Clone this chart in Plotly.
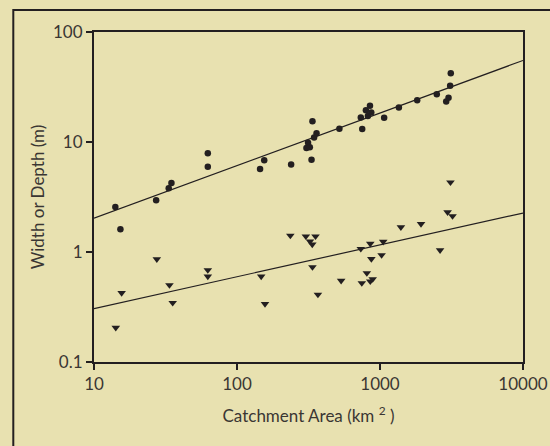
import plotly.graph_objects as go

# ---- data ----
width_area = [14.1, 15.3, 27.2, 33.3, 34.8, 62.5, 62.5, 145, 155, 239, 306, 314, 323, 332,
              337, 346, 360, 520, 734, 751, 797, 823, 851, 869, 1069, 1355, 1820, 2495,
              2904, 3014, 3094, 3126]
width_m = [2.57, 1.61, 2.96, 3.8, 4.25, 7.9, 5.95, 5.68, 6.84, 6.25, 8.8, 9.85, 8.95, 6.9,
           15.4, 11.0, 12.0, 13.2, 16.7, 13.1, 19.4, 17.2, 21.4, 18.5, 16.6, 20.6, 24.0, 27.2,
           23.4, 25.2, 32.5, 42.2]

depth_area = [14.2, 15.6, 27.5, 33.7, 35.5, 62.5, 62.5, 147.6, 157, 236, 303, 324, 336, 354,
              337, 368, 535, 734, 746, 809, 855, 870, 855, 889, 1026, 1053, 1400, 1936, 2630,
              2970, 3215, 3110]
depth_m = [0.205, 0.424, 0.86, 0.5, 0.345, 0.685, 0.6, 0.6, 0.337, 1.41, 1.39, 1.25, 1.17, 1.39,
           0.73, 0.41, 0.548, 1.07, 0.522, 0.644, 1.19, 0.864, 0.541, 0.568, 0.939, 1.24, 1.68,
           1.80, 1.04, 2.3, 2.12, 4.3]

fit_area = [10, 10000]
width_fit = [2.03, 55.1]
depth_fit = [0.306, 2.26]

x_ticks = [10, 100, 1000, 10000]
x_tick_text = ["10", "100", "1000", "10000"]
y_ticks = [0.1, 1, 10, 100]
y_tick_text = ["0.1", "1", "10", "100"]

BG = "#E8E1B0"
INK = "#231F20"
TXT = "#3a3633"
FONT = "Lato"
FS = 17

fig = go.Figure()
fig.add_trace(go.Scatter(x=fit_area, y=width_fit, mode="lines",
                         line=dict(color=INK, width=1.2), showlegend=False))
fig.add_trace(go.Scatter(x=fit_area, y=depth_fit, mode="lines",
                         line=dict(color=INK, width=1.2), showlegend=False))
fig.add_trace(go.Scatter(x=width_area, y=width_m, mode="markers",
                         marker=dict(symbol="circle", size=6.5, color=INK, line=dict(width=0)),
                         showlegend=False))
fig.add_trace(go.Scatter(x=depth_area, y=depth_m, mode="markers",
                         marker=dict(symbol="triangle-down", size=7.5, color=INK, line=dict(width=0)),
                         showlegend=False))

L, R, T, B = 94, 27, 32, 84
W, H = 550, 446
pw, ph = W - L - R, H - T - B

# outer frame (extends past right and bottom of the image)
fig.add_shape(type="rect", xref="paper", yref="paper",
              x0=(13.3 - L) / pw, x1=(W + 20 - L) / pw,
              y0=-(B + 20) / ph, y1=1 + (T - 10) / ph,
              line=dict(color=INK, width=2), fillcolor="rgba(0,0,0,0)", layer="above")

axis_common = dict(type="log", showgrid=False, zeroline=False, showline=True, mirror=True,
                   linecolor=INK, linewidth=2, ticks="outside", ticklen=6, tickwidth=2,
                   tickcolor=INK, ticklabeloverflow="allow",
                   tickfont=dict(family=FONT, size=FS, color=TXT))

fig.update_xaxes(range=[1, 4], tickvals=x_ticks, ticktext=x_tick_text,
                 title=dict(text="Catchment Area (km <sup>2</sup> )",
                            font=dict(family=FONT, size=FS, color=TXT), standoff=17),
                 **axis_common)
fig.update_yaxes(range=[-1, 2], tickvals=y_ticks, ticktext=y_tick_text,
                 title=dict(text="Width or Depth (m)",
                            font=dict(family=FONT, size=FS, color=TXT), standoff=4),
                 **axis_common)

fig.update_layout(width=W, height=H, margin=dict(l=L, r=R, t=T, b=B, autoexpand=False),
                  paper_bgcolor=BG, plot_bgcolor=BG, showlegend=False,
                  font=dict(family=FONT, color=TXT))

fig.write_html("out.html",
               config={"displayModeBar": False, "staticPlot": True},
               post_script="document.body.style.margin='0';"
                           "document.body.style.overflow='hidden';"
                           "document.body.style.background='" + BG + "';")
